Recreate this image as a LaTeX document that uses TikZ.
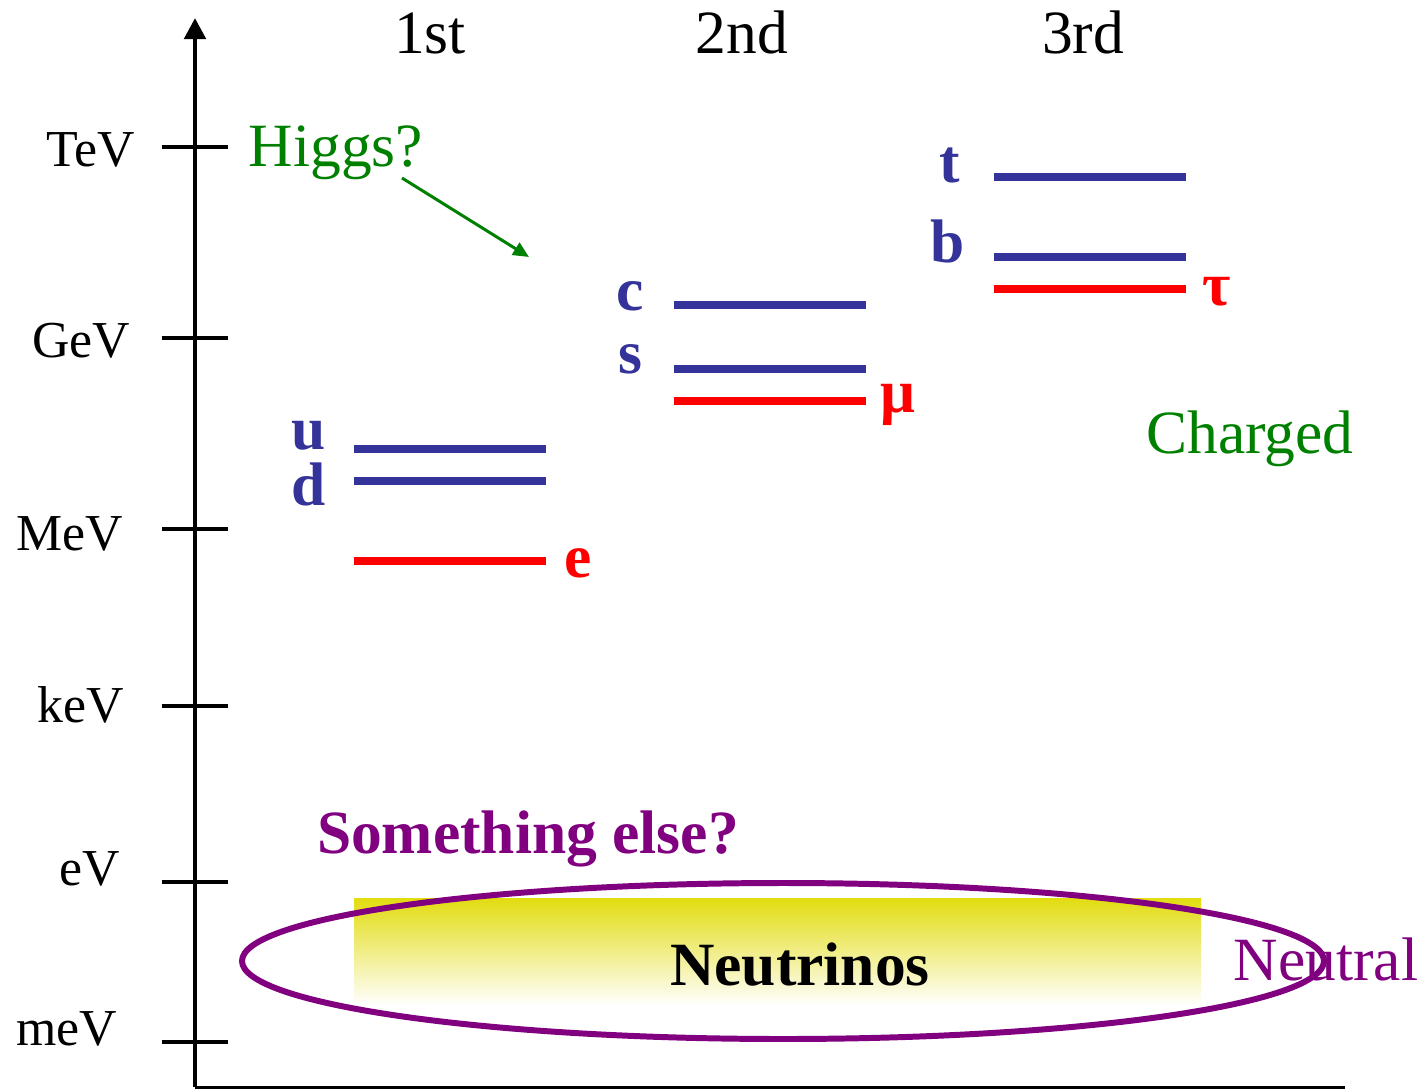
\documentclass[tikz,border=0pt]{standalone}
\usepackage{fontspec}
\setmainfont{Liberation Serif}
\usetikzlibrary{arrows.meta}
\definecolor{quarkblue}{RGB}{51,51,153}
\definecolor{leptonred}{RGB}{255,0,0}
\definecolor{higgsgreen}{RGB}{0,128,0}
\definecolor{nupurple}{RGB}{128,0,128}
\definecolor{nuyellow}{RGB}{226,220,16}
\begin{document}
\begin{tikzpicture}[x=0.02cm, y=-0.02cm,
    every node/.style={font=\fontsize{35}{40}\selectfont, inner sep=0pt, anchor=base},
    scalelabel/.style={font=\fontsize{29.5}{34}\selectfont},
    flavour/.style={font=\fontsize{35}{40}\selectfont\bfseries, text depth=0pt},
    quark/.style={draw=quarkblue, line width=5pt},
    lepton/.style={draw=leptonred, line width=5pt},
    tick/.style={line width=2.8pt}]
        \useasboundingbox (0,0) rectangle (1428,1089);
        % energy axis
        \coordinate (origin) at (195,1087);
        \coordinate (top) at (195,18);
        \coordinate (right) at (1345,1087);
        \draw[line width=2.8pt, -{Triangle[length=12pt, width=12pt]}] (origin)--(top);
        \draw[line width=1.7pt] (origin)--(right);
        \foreach \y/\name in {147/TeV, 338/GeV, 529/MeV, 706/keV, 882/eV, 1042/meV}
            \draw[tick] (162,\y)--(228,\y);
        \node[scalelabel] (TeV) at (91,166) {TeV};
        \node[scalelabel] (GeV) at (81,357) {GeV};
        \node[scalelabel] (MeV) at (70,550) {MeV};
        \node[scalelabel] (keV) at (81,722) {keV};
        \node[scalelabel] (eV) at (90,885) {eV};
        \node[scalelabel] (meV) at (67,1045) {meV};
        % generations
        \node (gen1) at (430,53) {1st};
        \node (gen2) at (742,53) {2nd};
        \node (gen3) at (1083,53) {3rd};
        % neutrinos
        \shade[top color=nuyellow, bottom color=white] (354,898) rectangle (1201,1005);
        \draw[nupurple, line width=3.4pt] (783,961) ellipse [x radius=541, y radius=78];
        \node[font=\fontsize{35}{40}\selectfont\bfseries] (nu) at (800,985) {Neutrinos};
        \node[text=nupurple] (neutral) at (1326,980) {Neutral};
        \node[text=nupurple, font=\fontsize{35}{40}\selectfont\bfseries] (else) at (528,853) {Something else?};
        % first generation
        \draw[quark] (354,449)--(546,449);
        \draw[quark] (354,481)--(546,481);
        \draw[lepton] (354,561)--(546,561);
        \node[flavour, text=quarkblue] (u) at (309,449) {u};
        \node[flavour, text=quarkblue] (d) at (309,505) {d};
        \node[flavour, text=leptonred] (e) at (578,577) {e};
        % second generation
        \draw[quark] (674,305)--(866,305);
        \draw[quark] (674,369)--(866,369);
        \draw[lepton] (674,401)--(866,401);
        \node[flavour, text=quarkblue] (c) at (630,310) {c};
        \node[flavour, text=quarkblue] (s) at (630,373) {s};
        \node[flavour, text=leptonred] (mu) at (898,412) {μ};
        % third generation
        \draw[quark] (994,177)--(1186,177);
        \draw[quark] (994,257)--(1186,257);
        \draw[lepton] (994,289)--(1186,289);
        \node[flavour, text=quarkblue] (t) at (950,182) {t};
        \node[flavour, text=quarkblue] (b) at (948,262) {b};
        \node[flavour, text=leptonred] (tau) at (1217,305) {τ};
        % higgs and charged
        \node[text=higgsgreen] (higgs) at (336,166) {Higgs?};
        \node[text=higgsgreen] (charged) at (1250,453) {Charged};
        \coordinate (hfrom) at (402,178);
        \coordinate (hto) at (529,257);
        \draw[higgsgreen, line width=1.7pt, -{Triangle[length=9pt, width=8pt]}] (hfrom)--(hto);
    \end{tikzpicture}
\end{document}
